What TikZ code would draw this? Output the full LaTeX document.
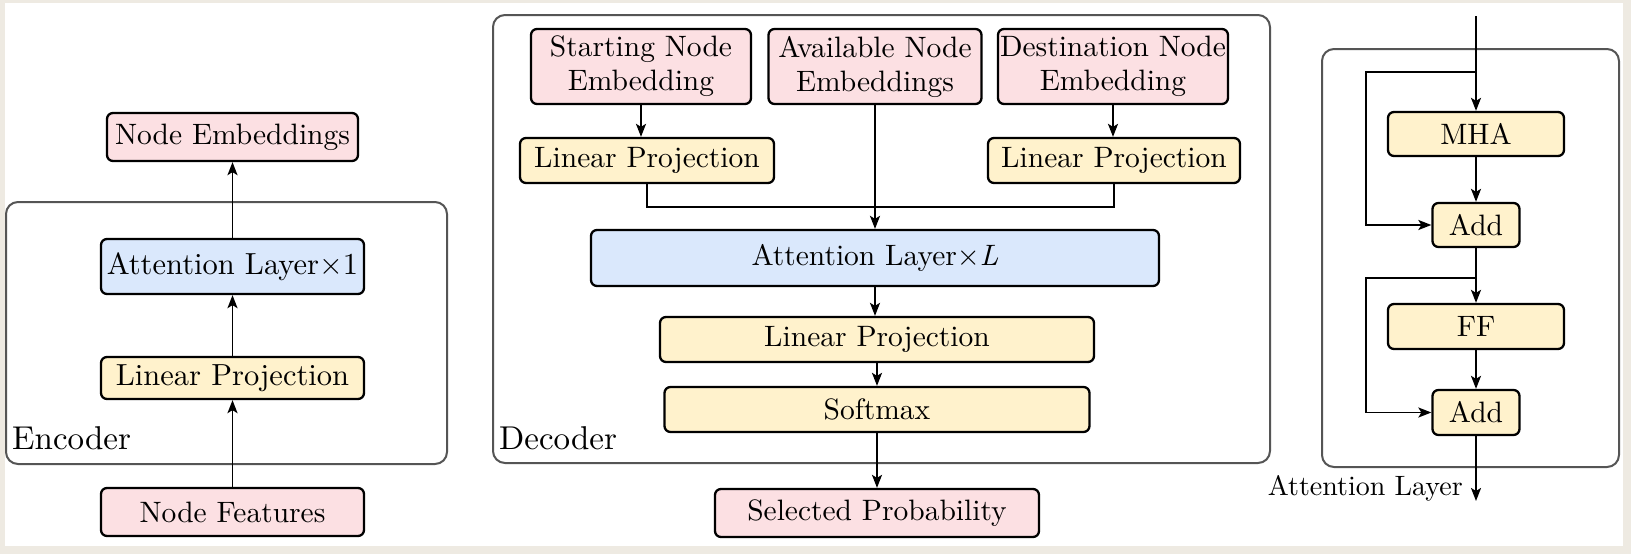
\documentclass[tikz,border=0pt]{standalone}
\usepackage{fontspec}
\setmainfont{lmroman10-regular}[Extension=.otf, ItalicFont=lmroman10-italic]
\usetikzlibrary{arrows.meta}
\definecolor{bgc}{HTML}{EEEAE2}
\definecolor{pinkf}{HTML}{FCE0E3}
\definecolor{bluef}{HTML}{DAE8FC}
\definecolor{yellf}{HTML}{FFF2CC}
\definecolor{contc}{HTML}{555555}
\begin{document}
\begin{tikzpicture}[x=1pt,y=-1pt,
  box/.style={draw=black, line width=2.3pt, rounded corners=6pt, inner sep=0pt,
    font=\fontsize{29.5}{34}\selectfont, align=center},
  pinkbox/.style={box, fill=pinkf},
  bluebox/.style={box, fill=bluef},
  yellbox/.style={box, fill=yellf},
  container/.style={draw=contc, line width=2pt, rounded corners=12pt},
  arr/.style={line width=1.9pt, -{Stealth[length=13pt,width=10pt,inset=3pt]}},
  conn/.style={line width=1.9pt},
  lbl/.style={font=\fontsize{33}{38}\selectfont, inner sep=0pt, anchor=base west},
]
\useasboundingbox (0,0) rectangle (1631,554);
\fill[bgc] (0,0) rectangle (1631,554);
\fill[white] (4.5,3) rectangle (1623,546);

% ---------------- Encoder ----------------
\draw[container] (6,202) rectangle (447,464);
\node[lbl] (enclbl) at (12,449.5) {Encoder};
\node[pinkbox, minimum width=251pt, minimum height=48pt] (nemb) at (232.5,137) {Node Embeddings};
\node[bluebox, minimum width=263pt, minimum height=55pt, font=\fontsize{30.5}{34}\selectfont] (eattn) at (232.5,266.5) {Attention Layer×1};
\node[yellbox, minimum width=263pt, minimum height=42pt, font=\fontsize{30.5}{34}\selectfont] (elin) at (232.5,378) {Linear Projection};
\node[pinkbox, minimum width=263pt, minimum height=48pt] (nfeat) at (232.5,512) {Node Features};
\draw[arr] (nfeat) -- (elin);
\draw[arr] (elin) -- (eattn);
\draw[arr] (eattn) -- (nemb);

% ---------------- Decoder ----------------
\draw[container] (493,15) rectangle (1270,463);
\node[lbl] (declbl) at (499,449) {Decoder};
\node[pinkbox, minimum width=220pt, minimum height=75pt] (start) at (641,66.5) {Starting Node\\Embedding};
\node[pinkbox, minimum width=213pt, minimum height=75pt] (avail) at (875,66.5) {Available Node\\Embeddings};
\node[pinkbox, minimum width=230pt, minimum height=75pt] (dest) at (1113,66.5) {Destination Node\\Embedding};
\node[yellbox, minimum width=254pt, minimum height=45pt] (dlin1) at (647,160.5) {Linear Projection};
\node[yellbox, minimum width=252pt, minimum height=45pt] (dlin2) at (1114,160.5) {Linear Projection};
\node[bluebox, minimum width=568pt, minimum height=56pt] (dattn) at (875,258) {Attention Layer×\textit{L}};
\node[yellbox, minimum width=434pt, minimum height=45pt] (dlin3) at (877,339.5) {Linear Projection};
\node[yellbox, minimum width=425pt, minimum height=45pt] (soft) at (877,409.5) {Softmax};
\node[pinkbox, minimum width=324pt, minimum height=48pt] (selp) at (877,513) {Selected Probability};
\coordinate (merge) at (875,207);
\draw[arr] (start.south) -- (start.south |- dlin1.north);
\draw[arr] (dest.south) -- (dest.south |- dlin2.north);
\draw[conn] (dlin1.south) |- (merge) -| (dlin2.south);
\draw[arr] (avail.south) -- (avail.south |- dattn.north);
\draw[arr] (dattn.south) -- (dattn.south |- dlin3.north);
\draw[arr] (dlin3.south) -- (dlin3.south |- soft.north);
\draw[arr] (soft.south) -- (soft.south |- selp.north);

% ---------------- Attention layer ----------------
\draw[container] (1322,49) rectangle (1619,467);
\node[yellbox, minimum width=176pt, minimum height=44pt] (mha) at (1476,134) {MHA};
\node[yellbox, minimum width=87pt, minimum height=44pt] (add1) at (1476,225) {Add};
\node[yellbox, minimum width=176pt, minimum height=45pt] (ff) at (1476,326.5) {FF};
\node[yellbox, minimum width=87pt, minimum height=45pt] (add2) at (1476,412.5) {Add};
\coordinate (topin) at (1476,16);
\coordinate (s1) at (1476,72);
\coordinate (s2) at (1476,278);
\coordinate (lx) at (1366,0);
\coordinate (outp) at (1476,501);
\draw[arr] (topin) -- (mha);
\draw[arr] (s1) -- (s1 -| lx) |- (add1.west);
\draw[arr] (mha) -- (add1);
\draw[arr] (add1) -- (ff);
\draw[arr] (s2) -- (s2 -| lx) |- (add2.west);
\draw[arr] (ff) -- (add2);
\draw[arr] (add2) -- (outp);
\node[font=\fontsize{28}{32}\selectfont, inner sep=0pt, anchor=base east] (attlbl) at (1463,495) {Attention Layer};
\end{tikzpicture}
\end{document}
